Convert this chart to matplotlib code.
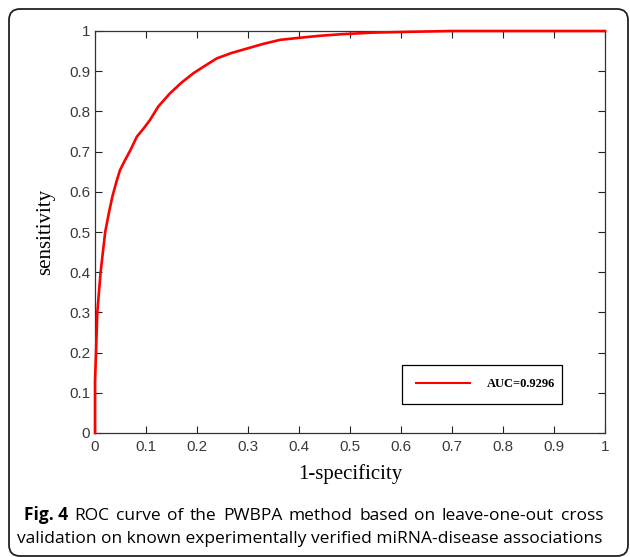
import matplotlib
matplotlib.use('Agg')
import matplotlib.pyplot as plt
from matplotlib.patches import FancyBboxPatch
from matplotlib.transforms import IdentityTransform

# ROC curve points
fpr = [0, 0, 0.002, 0.0045, 0.011, 0.02, 0.027, 0.034, 0.042, 0.049, 0.059,
       0.07, 0.082, 0.095, 0.108, 0.124, 0.147, 0.17, 0.193, 0.215, 0.239,
       0.267, 0.297, 0.33, 0.363, 0.4, 0.44, 0.483, 0.546, 0.617, 0.70, 0.85, 1.0]
tpr = [0, 0.13, 0.2, 0.3, 0.4, 0.5, 0.546, 0.588, 0.625, 0.654, 0.679,
       0.705, 0.737, 0.757, 0.779, 0.812, 0.845, 0.872, 0.895, 0.913, 0.932,
       0.945, 0.956, 0.968, 0.978, 0.983, 0.988, 0.992, 0.996, 0.998, 1.0, 1.0, 1.0]
auc_label = 'AUC=0.9296'
ticks = [0, 0.1, 0.2, 0.3, 0.4, 0.5, 0.6, 0.7, 0.8, 0.9, 1]
tick_labels = ['0', '0.1', '0.2', '0.3', '0.4', '0.5', '0.6', '0.7', '0.8', '0.9', '1']
caption_bold = 'Fig. 4'
caption_1 = 'ROC curve of the PWBPA method based on leave-one-out cross'
caption_2 = 'validation on known experimentally verified miRNA-disease associations'

fig = plt.figure(figsize=(6.3, 5.57), dpi=100)
ax = fig.add_axes([95 / 630, 124 / 557, 510 / 630, 402 / 557])

ax.plot(fpr, tpr, color='red', linewidth=1.9, label=auc_label, clip_on=False, zorder=3)

ax.set_xlim(0, 1)
ax.set_ylim(0, 1)
ax.set_xticks(ticks)
ax.set_xticklabels(tick_labels)
ax.set_yticks(ticks)
ax.set_yticklabels(tick_labels)
ax.tick_params(direction='in', top=True, right=True, length=5, width=0.8,
               color='#222222', labelcolor='#3a3a3a', labelsize=11)
ax.tick_params(axis='x', pad=5)
ax.tick_params(axis='y', pad=3.5)
for lab in ax.get_xticklabels() + ax.get_yticklabels():
    lab.set_family('Liberation Sans')
for sp in ax.spines.values():
    sp.set_color('#333333')
    sp.set_linewidth(0.9)

ax.set_xlabel('1-specificity', family='Liberation Serif', fontsize=15, labelpad=7)
ax.set_ylabel('sensitivity', family='Liberation Serif', fontsize=15, labelpad=10)

leg = ax.legend(loc='lower left', bbox_to_anchor=(0.602, 0.072, 0.314, 0.11),
                mode='expand', borderaxespad=0, fancybox=False, framealpha=1,
                edgecolor='black', handlelength=4.3, handletextpad=1.4,
                borderpad=1.1, prop={'family': 'Liberation Serif', 'weight': 'bold', 'size': 9})
leg.get_frame().set_linewidth(0.9)
leg.get_lines()[0].set_linewidth(1.5)

# caption, first line justified to the same right edge as the second
cap_size = 12.5
y1 = 1 - 520 / 557
x_left = 24
x_right = 603
renderer = fig.canvas.get_renderer()
words = [(caption_bold, 'bold')] + [(w, 'normal') for w in caption_1.split()]
texts = []
widths = []
for w, wt in words:
    t = fig.text(0, y1, w, family='Open Sans', weight=wt, fontsize=cap_size, va='baseline')
    texts.append(t)
    widths.append(t.get_window_extent(renderer).width)
gap = (x_right - x_left - sum(widths)) / (len(words) - 1)
x = x_left
for t, wd in zip(texts, widths):
    t.set_x(x / 630)
    x += wd + gap
fig.text(17 / 630, 1 - 543 / 557, caption_2, family='Open Sans',
         fontsize=cap_size, va='baseline')

# rounded border round the whole panel
box = FancyBboxPatch((9, 1), 619, 547, boxstyle='round,pad=0,rounding_size=11',
                     transform=IdentityTransform(), facecolor='none',
                     edgecolor='#222222', linewidth=1.3)
fig.add_artist(box)

fig.savefig('out.png', dpi=100)
